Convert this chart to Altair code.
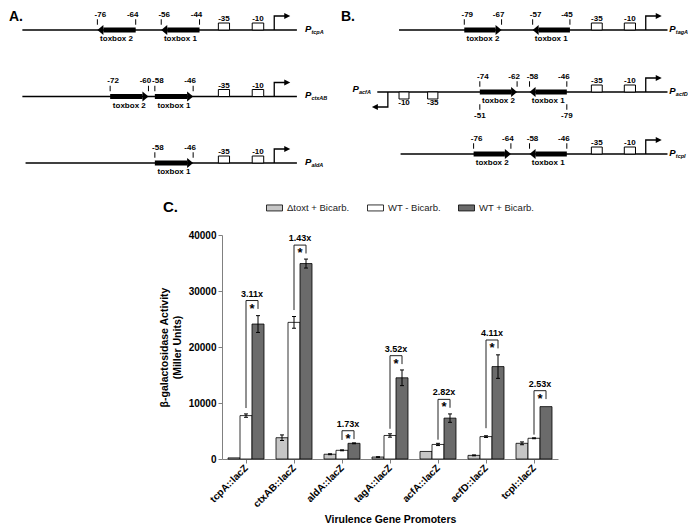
import json
import altair as alt
import pandas as pd

FONT = "Liberation Sans"

# ======================= Panel C: bar chart data =======================
promoters = ["tcpA::lacZ", "ctxAB::lacZ", "aldA::lacZ", "tagA::lacZ",
             "acfA::lacZ", "acfD::lacZ", "tcpI::lacZ"]
series = ["Δtoxt + Bicarb.", "WT - Bicarb.", "WT + Bicarb."]
series_colors = ["#c6c6c6", "#ffffff", "#6b6b6b"]
toxt_bicarb = [200, 3800, 850, 350, 1350, 650, 2800]
toxt_bicarb_err = [0, 500, 80, 60, 0, 80, 250]
wt_minus = [7750, 24400, 1550, 4200, 2600, 4000, 3700]
wt_minus_err = [300, 1050, 80, 300, 200, 150, 80]
wt_plus = [24100, 34900, 2800, 14500, 7300, 16500, 9350]
wt_plus_err = [1500, 800, 80, 1400, 750, 2100, 0]
fold_change = ["3.11x", "1.43x", "1.73x", "3.52x", "2.82x", "4.11x", "2.53x"]
bracket_top = [28300, 38200, 5050, 18450, 10650, 21250, 12200]
bracket_left_bottom = [9100, 26600, 3400, 5400, 3450, 5500, 4350]
y_ticks = [0, 10000, 20000, 30000, 40000]

# ======================= Panels A/B: promoter maps =======================
core_labels = ["-35", "-10"]
core_from = [-38.1, -27.5]
core_to = [-34.6, -23.9]
tss_pos = -20.6

a_rows = ["tcpA", "ctxAB", "aldA"]
a_line_from = [-99.5, -99.5, -98.5]
a_line_to = [-13.5, -13.5, -13.5]
a_box_row = ["tcpA", "tcpA", "ctxAB", "ctxAB", "aldA"]
a_box_name = ["toxbox 2", "toxbox 1", "toxbox 2", "toxbox 1", "toxbox 1"]
a_box_start = [-76, -56, -72, -58, -58]
a_box_end = [-64, -44, -60, -46, -46]
a_box_dir = ["left", "left", "right", "right", "right"]

b_rows = ["tagA", "acfD", "tcpI"]
b_line_from = [-100, -107, -99.5]
b_line_to = [-13.6, -13.6, -13.6]
b_box_row = ["tagA", "tagA", "acfD", "acfD", "tcpI", "tcpI"]
b_box_name = ["toxbox 2", "toxbox 1", "toxbox 2", "toxbox 1", "toxbox 2", "toxbox 1"]
b_box_start = [-79, -57, -74, -58, -76, -58]
b_box_end = [-67, -45, -62, -46, -64, -46]
b_box_dir = ["right", "left", "right", "left", "right", "left"]

# divergent acfA promoter drawn on the acfD map
acfA_box_label = ["-10", "-35"]
acfA_box_from = [-100.0, -90.8]
acfA_box_to = [-96.8, -87.5]
acfA_tss = -103.6
acfA_label_pos = -115
acfA_mark_pos = [-74, -46]
acfA_mark_label = ["-51", "-79"]

# symbol paths
LEFT_HEAD = "M0,0L1.2,-1L1.2,1Z"
RIGHT_HEAD = "M0,0L-1.2,-1L-1.2,1Z"
TICK = "M0,-1L0,1"
TSS_UP = "M0,0L0,-14L11,-14"
TSS_UP_HEAD = "M10,-17L16,-14L10,-11Z"
TSS_DOWN = "M0,0L0,15L-11,15"
TSS_DOWN_HEAD = "M-10,12L-16,15L-10,18Z"


def promoter_map(rows, line_from, line_to, box_row, box_name, box_start, box_end,
                 box_dir, xdom, xrng, yrng, label_pos):
    xs = alt.Scale(domain=xdom, range=xrng, nice=False, zero=False, padding=0)
    ys = alt.Scale(domain=[0, len(rows) - 1], range=yrng, nice=False, zero=False,
                   padding=0)

    def X(f):
        return alt.X(f"{f}:Q", scale=xs, axis=None)

    Y = alt.Y("ri:Q", scale=ys, axis=None)
    idx = {r: i for i, r in enumerate(rows)}
    n = len(rows)
    row_df = pd.DataFrame({"ri": list(range(n)), "gene": rows, "x0": line_from,
                           "x1": line_to, "tss": [tss_pos] * n,
                           "lab": [label_pos] * n})
    core_df = pd.DataFrame([{"ri": i, "txt": t, "x0": a, "x1": b, "xm": (a + b) / 2}
                            for i in range(n)
                            for t, a, b in zip(core_labels, core_from, core_to)])
    box_df = pd.DataFrame({"ri": [idx[r] for r in box_row], "name": box_name,
                           "start": box_start, "end": box_end, "dir": box_dir})
    box_df["mid"] = (box_df["start"] + box_df["end"]) / 2
    ends = pd.concat([box_df.assign(pos=box_df["start"], side="start"),
                      box_df.assign(pos=box_df["end"], side="end")],
                     ignore_index=True)
    ends["txt"] = ends["pos"].map(lambda v: str(int(v)))

    R = alt.Chart(row_df)
    C = alt.Chart(core_df)
    B = alt.Chart(box_df)
    E = alt.Chart(ends)
    layers = [
        R.mark_rule(color="black", strokeWidth=1.3).encode(
            x=X("x0"), x2=alt.X2("x1"), y=Y),
        C.mark_bar(orient="horizontal", size=7, fill="white", stroke="black",
                   strokeWidth=1, yOffset=-3.5).encode(
            x=X("x0"), x2=alt.X2("x1"), y=Y),
        C.mark_text(fontSize=8, fontWeight="bold", dy=-11, baseline="middle").encode(
            x=X("xm"), y=Y, text="txt:N"),
        R.mark_point(shape=TSS_UP, size=4, filled=False, color="black",
                     strokeWidth=1.3, opacity=1).encode(x=X("tss"), y=Y),
        R.mark_point(shape=TSS_UP_HEAD, size=4, filled=True, color="black",
                     strokeWidth=0, opacity=1).encode(x=X("tss"), y=Y),
        B.transform_filter("datum.dir == 'left'").mark_rule(
            color="black", strokeWidth=5, strokeCap="butt", xOffset=6).encode(
            x=X("start"), x2=alt.X2("end"), y=Y),
        B.transform_filter("datum.dir == 'right'").mark_rule(
            color="black", strokeWidth=5, strokeCap="butt", x2Offset=-6).encode(
            x=X("start"), x2=alt.X2("end"), y=Y),
        B.transform_filter("datum.dir == 'left'").mark_point(
            shape=LEFT_HEAD, size=100, filled=True, color="black", strokeWidth=0,
            opacity=1).encode(x=X("start"), y=Y),
        B.transform_filter("datum.dir == 'right'").mark_point(
            shape=RIGHT_HEAD, size=100, filled=True, color="black", strokeWidth=0,
            opacity=1).encode(x=X("end"), y=Y),
        E.mark_point(shape=TICK, size=30, filled=False, color="black",
                     strokeWidth=1, yOffset=-8, opacity=1).encode(x=X("pos"), y=Y),
        E.transform_filter("datum.side == 'start'").mark_text(
            fontSize=8, fontWeight="bold", dy=-15.5, dx=3).encode(
            x=X("pos"), y=Y, text="txt:N"),
        E.transform_filter("datum.side == 'end'").mark_text(
            fontSize=8, fontWeight="bold", dy=-15.5, dx=-3).encode(
            x=X("pos"), y=Y, text="txt:N"),
        B.mark_text(fontSize=8, fontWeight="bold", dy=9).encode(
            x=X("mid"), y=Y, text="name:N"),
        R.mark_text(align="left", fontSize=9.5, fontWeight="bold", fontStyle="italic",
                    dy=-1.5, text="P").encode(x=X("lab"), y=Y),
        R.mark_text(align="left", fontSize=5.5, fontWeight="bold", fontStyle="italic",
                    dx=6.5, dy=1.5).encode(x=X("lab"), y=Y, text="gene:N"),
    ]
    return layers, X, Y


layersA, _, _ = promoter_map(a_rows, a_line_from, a_line_to, a_box_row, a_box_name,
                             a_box_start, a_box_end, a_box_dir,
                             xdom=[-104, 0], xrng=[0, 332], yrng=[22, 155],
                             label_pos=-11)
layersB, XB, YB = promoter_map(b_rows, b_line_from, b_line_to, b_box_row, b_box_name,
                               b_box_start, b_box_end, b_box_dir,
                               xdom=[-119, -7], xrng=[332, 680], yrng=[22, 146],
                               label_pos=-13)

acf_row = b_rows.index("acfD")
acf_box_df = pd.DataFrame({"ri": [acf_row] * 2, "txt": acfA_box_label,
                           "x0": acfA_box_from, "x1": acfA_box_to})
acf_box_df["xm"] = (acf_box_df["x0"] + acf_box_df["x1"]) / 2
acf_row_df = pd.DataFrame({"ri": [acf_row], "tss": [acfA_tss],
                           "lab": [acfA_label_pos], "gene": ["acfA"]})
acf_mark_df = pd.DataFrame({"ri": [acf_row] * 2, "pos": acfA_mark_pos,
                            "txt": acfA_mark_label})
AB = alt.Chart(acf_box_df)
AR = alt.Chart(acf_row_df)
AM = alt.Chart(acf_mark_df)
layersB += [
    AB.mark_bar(orient="horizontal", size=7, fill="white", stroke="black",
                strokeWidth=1, yOffset=3.5).encode(x=XB("x0"), x2=alt.X2("x1"), y=YB),
    AB.mark_text(fontSize=8, fontWeight="bold", dy=11).encode(
        x=XB("xm"), y=YB, text="txt:N"),
    AR.mark_point(shape=TSS_DOWN, size=4, filled=False, color="black",
                  strokeWidth=1.3, opacity=1).encode(x=XB("tss"), y=YB),
    AR.mark_point(shape=TSS_DOWN_HEAD, size=4, filled=True, color="black",
                  strokeWidth=0, opacity=1).encode(x=XB("tss"), y=YB),
    AR.mark_text(align="left", fontSize=9.5, fontWeight="bold", fontStyle="italic",
                 dy=-3, text="P").encode(x=XB("lab"), y=YB),
    AR.mark_text(align="left", fontSize=5.5, fontWeight="bold", fontStyle="italic",
                 dx=6.5, dy=0).encode(x=XB("lab"), y=YB, text="gene:N"),
    AM.mark_point(shape=TICK, size=30, filled=False, color="black", strokeWidth=1,
                  yOffset=15, opacity=1).encode(x=XB("pos"), y=YB),
    AM.mark_text(fontSize=8, fontWeight="bold", dy=24).encode(
        x=XB("pos"), y=YB, text="txt:N"),
]

# ======================= Panel C layers =======================
n = len(promoters)
vals = [toxt_bicarb, wt_minus, wt_plus]
errs = [toxt_bicarb_err, wt_minus_err, wt_plus_err]
rows = []
for i, p in enumerate(promoters):
    for j, s in enumerate(series):
        v, e = vals[j][i], errs[j][i]
        rows.append({"promoter": p, "series": s, "value": v, "err": e,
                     "lo": v - e, "hi": v + e, "xc": i + 0.25 * (j + 1)})
bars_df = pd.DataFrame(rows)

br_df = pd.DataFrame({"fold": fold_change, "top": bracket_top,
                      "lb": bracket_left_bottom})
br_df["xw"] = [i + 0.5 for i in range(n)]
br_df["xd"] = [i + 0.75 for i in range(n)]
br_df["xm"] = [i + 0.625 for i in range(n)]
br_df["rb"] = br_df["top"] - 1500

XC = alt.Scale(domain=[0, n], range=[214, 550], nice=False, zero=False, padding=0)
YC = alt.Scale(domain=[0, 40000], range=[451, 227], nice=False, zero=True, padding=0)

x_axis = alt.Axis(values=[i + 0.5 for i in range(n)],
                  labelExpr=json.dumps(promoters) + "[floor(datum.value)]",
                  labelAngle=-45, labelAlign="right", labelBaseline="middle",
                  labelFontSize=10, labelFontWeight="bold", labelColor="black",
                  labelPadding=3, labelOverlap=False, labelFlush=False,
                  tickSize=4, tickColor="#808080", domainColor="#808080",
                  grid=False, title="Virulence Gene Promoters", titleFontSize=10.5,
                  titleFontWeight="bold", titleColor="black", titlePadding=6,
                  offset=-65)
y_axis = alt.Axis(values=y_ticks, format="d", grid=False, domainColor="#808080",
                  tickColor="#808080", tickSize=4, labelFontSize=10,
                  labelFontWeight="bold", labelColor="black", labelPadding=2,
                  title=["β-galactosidase Activity", "(Miller Units)"],
                  titleFontSize=10.5, titleFontWeight="bold", titleColor="black",
                  titlePadding=6, offset=-214)

bars = alt.Chart(bars_df).mark_bar(orient="vertical", size=12, stroke="black",
                                    strokeWidth=0.8).encode(
    x=alt.X("xc:Q", scale=XC, axis=x_axis),
    y=alt.Y("value:Q", scale=YC, axis=y_axis, stack=None),
    fill=alt.Fill("series:N", scale=alt.Scale(domain=series, range=series_colors),
                  legend=alt.Legend(orient="none", legendX=258, legendY=191,
                                    direction="horizontal", title=None,
                                    symbolType="M-1,-0.375H1V0.375H-1Z",
                                    symbolSize=256, symbolStrokeColor="black",
                                    symbolStrokeWidth=0.8, symbolOpacity=1,
                                    labelFontSize=9.5, labelColor="#222222",
                                    labelOffset=4, columnPadding=15,
                                    labelLimit=200)),
)

E = alt.Chart(bars_df).transform_filter("datum.err > 0")
xq = alt.X("xc:Q", scale=XC, axis=None)
err_rule = E.mark_rule(color="black", strokeWidth=1).encode(
    x=xq, y=alt.Y("lo:Q", scale=YC, axis=None), y2="hi:Q")
cap_lo = E.mark_tick(orient="horizontal", size=4, thickness=1, color="black",
                     opacity=1).encode(x=xq, y=alt.Y("lo:Q", scale=YC, axis=None))
cap_hi = E.mark_tick(orient="horizontal", size=4, thickness=1, color="black",
                     opacity=1).encode(x=xq, y=alt.Y("hi:Q", scale=YC, axis=None))

BR = alt.Chart(br_df)
ytop = alt.Y("top:Q", scale=YC, axis=None)
leg_l = BR.mark_rule(color="#222222", strokeWidth=1).encode(
    x=alt.X("xw:Q", scale=XC, axis=None), y=alt.Y("lb:Q", scale=YC, axis=None),
    y2="top:Q")
leg_r = BR.mark_rule(color="#222222", strokeWidth=1).encode(
    x=alt.X("xd:Q", scale=XC, axis=None), y=alt.Y("rb:Q", scale=YC, axis=None),
    y2="top:Q")
leg_t = BR.mark_rule(color="#222222", strokeWidth=1).encode(
    x=alt.X("xw:Q", scale=XC, axis=None), x2="xd:Q", y=ytop)
stars = BR.mark_text(text="*", fontSize=13, fontWeight="bold", baseline="top",
                     dy=2).encode(x=alt.X("xm:Q", scale=XC, axis=None), y=ytop)
folds = BR.mark_text(fontSize=9, fontWeight="bold", baseline="bottom",
                     dy=-2).encode(x=alt.X("xm:Q", scale=XC, axis=None), y=ytop,
                                   text="fold:N")

layersC = [bars, err_rule, cap_lo, cap_hi, leg_l, leg_r, leg_t, stars, folds]

tA = alt.Chart(pd.DataFrame({"t": ["A."]})).mark_text(
    fontSize=14, fontWeight="bold", align="left", baseline="middle").encode(
    x=alt.value(1), y=alt.value(9), text="t:N")
tB = alt.Chart(pd.DataFrame({"t": ["B."]})).mark_text(
    fontSize=14, fontWeight="bold", align="left", baseline="middle").encode(
    x=alt.value(333), y=alt.value(9), text="t:N")
tC = alt.Chart(pd.DataFrame({"t": ["C."]})).mark_text(
    fontSize=15, fontWeight="bold", align="left", baseline="middle").encode(
    x=alt.value(155), y=alt.value(199), text="t:N")

chart = alt.layer(*layersC, *layersA, *layersB, tA, tB, tC).resolve_scale(
    x="independent", y="independent"
).properties(
    width=680, height=516, padding=0,
    autosize=alt.AutoSizeParams(type="none"),
).configure(font=FONT).configure_view(stroke=None)

chart.save("out.html", embed_options={"renderer": "svg", "actions": False})
